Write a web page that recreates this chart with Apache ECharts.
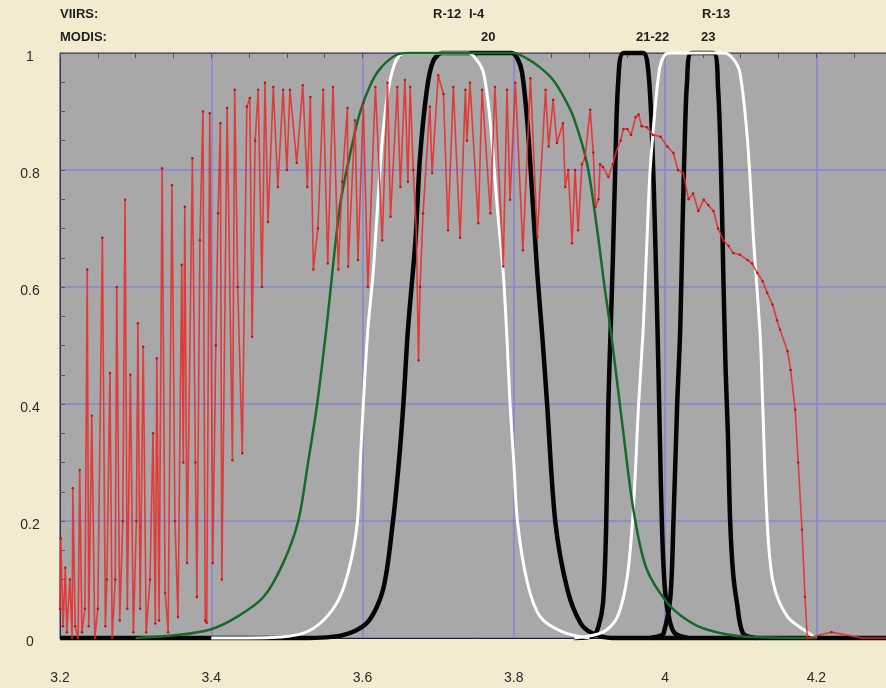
<!DOCTYPE html>
<html>
<head>
<meta charset="utf-8">
<script src="https://cdn.jsdelivr.net/npm/echarts@6/dist/echarts.min.js"></script>
<style>
html,body{margin:0;padding:0;background:#f2ebcf;}
#c{width:886px;height:688px;}
</style>
</head>
<body>
<div id="c"></div>
<script>
// Axis ticks
const xTicks = [3.2, 3.4, 3.6, 3.8, 4.0, 4.2];
const yTicks = [0, 0.2, 0.4, 0.6, 0.8, 1];

// Band labels
const viirsLabels = ['R-12', 'I-4', 'R-13'];
const modisLabels = ['20', '21-22', '23'];

// Atmospheric transmission (red)
const transWl = [3.200,3.201,3.204,3.207,3.209,3.213,3.216,3.217,3.220,3.224,3.226,3.229,3.233,3.236,3.238,3.242,3.246,3.250,3.256,3.260,3.262,3.266,3.269,3.273,3.275,3.279,3.283,3.286,3.289,3.293,3.297,3.301,3.303,3.306,3.310,3.314,3.319,3.323,3.326,3.328,3.331,3.335,3.339,3.343,3.348,3.352,3.356,3.361,3.363,3.365,3.368,3.375,3.379,3.381,3.385,3.389,3.392,3.394,3.398,3.402,3.406,3.409,3.412,3.414,3.421,3.428,3.431,3.435,3.441,3.447,3.451,3.454,3.458,3.462,3.467,3.471,3.475,3.482,3.488,3.495,3.500,3.504,3.513,3.521,3.527,3.531,3.535,3.541,3.548,3.554,3.561,3.568,3.573,3.580,3.581,3.590,3.594,3.601,3.607,3.617,3.626,3.633,3.637,3.646,3.650,3.656,3.660,3.663,3.667,3.671,3.674,3.676,3.680,3.689,3.692,3.700,3.707,3.713,3.720,3.729,3.736,3.738,3.742,3.753,3.758,3.769,3.775,3.786,3.791,3.795,3.802,3.812,3.822,3.831,3.842,3.846,3.852,3.857,3.865,3.868,3.872,3.877,3.881,3.885,3.890,3.894,3.901,3.905,3.908,3.912,3.914,3.918,3.925,3.931,3.935,3.941,3.945,3.950,3.955,3.961,3.965,3.969,3.976,3.984,3.994,4.003,4.011,4.017,4.024,4.031,4.037,4.044,4.051,4.057,4.064,4.070,4.077,4.084,4.090,4.099,4.109,4.115,4.122,4.129,4.135,4.142,4.148,4.152,4.162,4.166,4.172,4.176,4.181,4.185,4.188,4.220,4.260,4.300];
const transVal = [0.05,0.17,0.02,0.12,0.01,0.10,0.0,0.256,0.02,0.0,0.287,0.01,0.05,0.63,0.02,0.38,0.0,0.05,0.684,0.02,0.10,0.453,0.0,0.10,0.60,0.03,0.2,0.749,0.05,0.45,0.01,0.2,0.538,0.05,0.498,0.01,0.10,0.35,0.025,0.478,0.03,0.803,0.077,0.01,0.774,0.2,0.036,0.638,0.3,0.737,0.128,0.82,0.3,0.07,0.68,0.90,0.03,0.026,0.897,0.128,0.5,0.726,0.88,0.10,0.906,0.304,0.937,0.6,0.316,0.908,0.923,0.515,0.85,0.937,0.60,0.949,0.711,0.942,0.771,0.937,0.80,0.937,0.812,0.945,0.771,0.925,0.63,0.70,0.937,0.64,0.942,0.63,0.78,0.906,0.635,0.885,0.646,0.914,0.60,0.942,0.68,0.949,0.72,0.942,0.771,0.954,0.78,0.942,0.80,0.70,0.475,0.60,0.726,0.908,0.795,0.962,0.93,0.697,0.942,0.684,0.937,0.85,0.949,0.709,0.937,0.726,0.942,0.635,0.937,0.749,0.949,0.663,0.957,0.686,0.937,0.84,0.92,0.846,0.88,0.771,0.80,0.675,0.80,0.697,0.81,0.82,0.903,0.83,0.737,0.75,0.81,0.805,0.788,0.81,0.83,0.85,0.87,0.87,0.86,0.89,0.895,0.875,0.873,0.86,0.857,0.84,0.829,0.80,0.795,0.75,0.76,0.73,0.749,0.74,0.73,0.70,0.68,0.67,0.658,0.655,0.646,0.64,0.624,0.61,0.59,0.57,0.543,0.527,0.49,0.458,0.39,0.30,0.185,0.07,0.0,0.01,0.0,0.0];

// VIIRS M12 (white)
const m12Wl  = [3.40,3.48,3.521,3.548,3.570,3.584,3.593,3.597,3.601,3.607,3.614,3.620,3.626,3.634,3.642,3.650,3.660,3.740,3.750,3.760,3.769,3.778,3.786,3.791,3.795,3.800,3.805,3.818,3.835,3.865,3.90];
const m12Val = [0,0.001,0.008,0.03,0.07,0.128,0.197,0.30,0.40,0.527,0.624,0.74,0.85,0.937,0.98,0.997,1.0,1.0,0.99,0.966,0.88,0.737,0.624,0.51,0.40,0.30,0.197,0.094,0.036,0.01,0];

// VIIRS M13 (white)
const m13Wl  = [3.88,3.918,3.937,3.950,3.958,3.965,3.971,3.976,3.980,3.987,3.993,4.000,4.008,4.078,4.090,4.099,4.109,4.117,4.126,4.129,4.135,4.143,4.162,4.188,4.20];
const m13Val = [0,0.01,0.036,0.105,0.22,0.40,0.527,0.68,0.795,0.908,0.975,0.997,1.0,1.0,0.99,0.966,0.85,0.68,0.51,0.40,0.197,0.094,0.036,0.01,0];

// VIIRS I4 (green)
const i4Wl  = [3.30,3.355,3.398,3.434,3.469,3.495,3.515,3.528,3.540,3.552,3.570,3.584,3.597,3.612,3.625,3.645,3.66,3.80,3.818,3.835,3.852,3.866,3.879,3.897,3.910,3.920,3.928,3.943,3.958,3.975,4.003,4.030,4.056,4.10,4.20];
const i4Val = [0,0.005,0.014,0.036,0.07,0.128,0.2,0.30,0.40,0.527,0.737,0.83,0.90,0.95,0.976,0.997,1.0,1.0,0.99,0.975,0.954,0.925,0.89,0.81,0.70,0.60,0.527,0.37,0.22,0.12,0.06,0.03,0.014,0.003,0];

// MODIS band 20 (black)
const b20Wl  = [3.2,3.52,3.574,3.606,3.627,3.640,3.648,3.654,3.660,3.670,3.676,3.685,3.693,3.705,3.797,3.805,3.811,3.818,3.824,3.831,3.838,3.844,3.855,3.871,3.888,3.904,3.93,4.3];
const b20Val = [0,0,0.005,0.026,0.082,0.197,0.30,0.40,0.527,0.68,0.822,0.937,0.985,1.0,1.0,0.99,0.966,0.88,0.766,0.624,0.51,0.40,0.197,0.082,0.026,0.008,0,0];

// MODIS bands 21-22 (black)
const b21Wl  = [3.88,3.905,3.912,3.918,3.922,3.925,3.928,3.931,3.934,3.938,3.945,3.971,3.978,3.983,3.987,3.990,3.993,3.996,4.000,4.006,4.013,4.03];
const b21Val = [0,0.003,0.02,0.06,0.185,0.40,0.527,0.65,0.80,0.95,1.0,1.0,0.966,0.85,0.68,0.527,0.35,0.185,0.08,0.03,0.008,0];

// MODIS band 23 (black)
const b23Wl  = [3.98,3.992,3.998,4.007,4.011,4.016,4.020,4.023,4.026,4.029,4.035,4.064,4.070,4.074,4.077,4.080,4.083,4.086,4.090,4.095,4.103,4.12];
const b23Val = [0,0.003,0.008,0.07,0.197,0.40,0.527,0.70,0.85,0.95,1.0,1.0,0.94,0.80,0.62,0.46,0.35,0.2,0.11,0.06,0.008,0];

function pairs(xs, ys){ return xs.map((x,i)=>[x, ys[i]]); }

const chart = echarts.init(document.getElementById('c'), null, {renderer:'canvas'});

function bandLine(name, xs, ys, color, width, z){
  return {
    name: name, type: 'line', data: pairs(xs, ys),
    showSymbol: false, smooth: 0.3, clip: false, z: z,
    lineStyle: {color: color, width: width},
    itemStyle: {color: color},
    emphasis: {disabled: true}, animation: false
  };
}

const labelFont = {fontFamily: 'Liberation Sans, Arial, sans-serif', fontSize: 13, fontWeight: 'bold', fill: '#1e1e1e'};
function txt(s, x, y, align){
  return {type:'text', left: x, top: y, style: Object.assign({text: s, textAlign: align || 'left'}, labelFont)};
}

chart.setOption({
  backgroundColor: '#f2ebcf',
  animation: false,
  grid: {left: 60, top: 53, bottom: 50, right: -6, containLabel: false, outerBoundsMode: 'none',
         show: true, backgroundColor: '#a8a8a8', borderColor: '#4a4a4a', borderWidth: 1},
  xAxis: [{
    type: 'value', min: 3.2, max: 4.3, interval: 0.2, position: 'bottom',
    axisLine: {show: true, lineStyle: {color: '#222', width: 1}},
    axisTick: {show: false},
    axisLabel: {
      margin: 33, color: '#2a2a2a', fontSize: 14, fontFamily: 'Liberation Sans, Arial, sans-serif',
      showMaxLabel: false, hideOverlap: false,
      formatter: function(v){ return xTicks.some(t => Math.abs(t - v) < 1e-6) ? String(+v.toFixed(1)) : ''; }
    },
    splitLine: {show: true, lineStyle: {color: '#8585d8', width: 1.5}}
  }, {
    type: 'value', min: 3.2, max: 4.3, interval: 0.2, position: 'top',
    axisLine: {show: true, lineStyle: {color: '#555', width: 1}},
    axisTick: {show: true, inside: true, length: 5, lineStyle: {color: '#555'}},
    minorTick: {show: true, splitNumber: 4, length: 5, lineStyle: {color: '#555'}},
    axisLabel: {show: false}, splitLine: {show: false}
  }],
  yAxis: {
    type: 'value', min: 0, max: 1, interval: 0.2,
    axisLine: {show: true, lineStyle: {color: '#333', width: 1}},
    axisTick: {show: true, inside: true, length: 5, lineStyle: {color: '#555'}},
    minorTick: {show: true, splitNumber: 4, length: 5, lineStyle: {color: '#555'}},
    axisLabel: {
      align: 'center', verticalAlign: 'top', lineHeight: 8, margin: 30, color: '#2a2a2a', fontSize: 14,
      fontFamily: 'Liberation Sans, Arial, sans-serif',
      formatter: function(v){ return yTicks.some(t => Math.abs(t - v) < 1e-6) ? String(+v.toFixed(1)) : ''; }
    },
    splitLine: {show: true, lineStyle: {color: '#8585d8', width: 1.5}}
  },
  graphic: [
    txt('VIIRS:', 60, 8),
    txt('MODIS:', 60, 31),
    txt(viirsLabels[0], 433, 8, 'center'),
    txt(viirsLabels[1], 469, 8, 'center'),
    txt(viirsLabels[2], 702, 8, 'center'),
    txt(modisLabels[0], 481, 31, 'center'),
    txt(modisLabels[1], 636, 31, 'center'),
    txt(modisLabels[2], 701, 31, 'center')
  ],
  series: [
    bandLine('MODIS 20', b20Wl, b20Val, '#050505', 4.5, 2),
    bandLine('MODIS 21-22', b21Wl, b21Val, '#050505', 4.5, 2),
    bandLine('MODIS 23', b23Wl, b23Val, '#050505', 4.5, 2),
    bandLine('VIIRS M12', m12Wl, m12Val, '#ffffff', 3, 3),
    bandLine('VIIRS M13', m13Wl, m13Val, '#ffffff', 3, 3),
    bandLine('VIIRS I4', i4Wl, i4Val, '#17692a', 2.5, 4),
    {
      name: 'Transmission', type: 'line', data: pairs(transWl, transVal),
      showSymbol: true, showAllSymbol: true, symbol: 'circle', symbolSize: 2.5,
      itemStyle: {color: '#b81515'},
      lineStyle: {color: 'rgba(232,45,45,0.9)', width: 1.6},
      clip: false, z: 5, animation: false, emphasis: {disabled: true}
    }
  ]
});
</script>
</body>
</html>
